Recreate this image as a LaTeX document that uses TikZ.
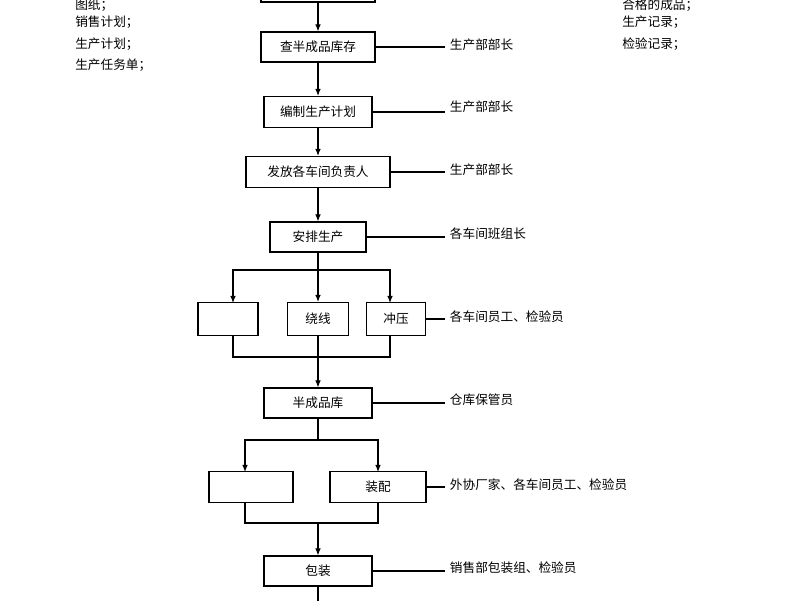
\documentclass[tikz,border=0pt]{standalone}
\usepackage{fontspec}
\setmainfont{Noto Sans CJK SC}
\usetikzlibrary{arrows.meta}
\tikzset{
    stage/.style={rectangle, draw=black, thick, fill=white, inner sep=0pt, font=\fontsize{9}{10}\selectfont},
    flow/.style={draw=black, thick, -{Latex[length=5pt,width=4pt]}},
    link/.style={draw=black, thick},
    role/.style={anchor=west, font=\fontsize{9}{10}\selectfont},
    doc/.style={anchor=west, font=\fontsize{9}{10}\selectfont, inner sep=0pt}
}
\begin{document}
\begin{tikzpicture}[x=0.025cm, y=-0.025cm]
\useasboundingbox (0,0) rectangle (800,600);
\clip (0,0) rectangle (800,600);

% Input and output documents
\node[doc] (in1) at (75,5) {图纸；};
\node[doc] (in2) at (75,22) {销售计划；};
\node[doc] (in3) at (75,44) {生产计划；};
\node[doc] (in4) at (75,65) {生产任务单；};
\node[doc] (out1) at (622,5) {合格的成品；};
\node[doc] (out2) at (622,22) {生产记录；};
\node[doc] (out3) at (622,44) {检验记录；};

% Main steps
\node[stage, minimum width=114*0.025cm, minimum height=30*0.025cm] (start) at (318,-13) {};
\node[stage, minimum width=114*0.025cm, minimum height=30*0.025cm] (check) at (318,47) {查半成品库存};
\node[stage, minimum width=108*0.025cm, minimum height=31*0.025cm] (plan) at (318,112) {编制生产计划};
\node[stage, minimum width=144*0.025cm, minimum height=31*0.025cm] (issue) at (318,172) {发放各车间负责人};
\node[stage, minimum width=96*0.025cm, minimum height=30*0.025cm] (arrange) at (318,237) {安排生产};

% Workshop row
\node[stage, minimum width=60*0.025cm, minimum height=33*0.025cm] (blank1) at (228,319) {};
\node[stage, minimum width=61*0.025cm, minimum height=33*0.025cm] (wind) at (318,319) {绕线};
\node[stage, minimum width=59*0.025cm, minimum height=33*0.025cm] (press) at (396,319) {冲压};

\node[stage, minimum width=108*0.025cm, minimum height=30*0.025cm] (semi) at (318,403) {半成品库};

% Assembly row
\node[stage, minimum width=84*0.025cm, minimum height=31*0.025cm] (blank2) at (251,487) {};
\node[stage, minimum width=96*0.025cm, minimum height=31*0.025cm] (assem) at (378,487) {装配};

\node[stage, minimum width=108*0.025cm, minimum height=30*0.025cm] (pack) at (318,571) {包装};

% Roles
\node[role] (r1) at (445,45) {生产部部长};
\node[role] (r2) at (445,107) {生产部部长};
\node[role] (r3) at (445,170) {生产部部长};
\node[role] (r4) at (445,234) {各车间班组长};
\node[role] (r5) at (445,317) {各车间员工、检验员};
\node[role] (r6) at (445,400) {仓库保管员};
\node[role] (r7) at (445,485) {外协厂家、各车间员工、检验员};
\node[role] (r8) at (445,568) {销售部包装组、检验员};

\coordinate (fork1) at (318,270);
\coordinate (join1) at (318,357);
\coordinate (fork2) at (318,440);
\coordinate (join2) at (318,523);
\coordinate (tail) at (318,610);

% Flow
\draw[flow] (start) -- (check);
\draw[flow] (check) -- (plan);
\draw[flow] (plan) -- (issue);
\draw[flow] (issue) -- (arrange);
\draw[link] (arrange) -- (fork1);
\draw[flow] (fork1) -| (233,303);
\draw[flow] (fork1) -- (wind);
\draw[flow] (fork1) -| (390,303);
\draw[link] (233,336) |- (join1) -| (390,336);
\draw[link] (wind) -- (join1);
\draw[flow] (join1) -- (semi);
\draw[link] (semi) -- (fork2);
\draw[flow] (fork2) -| (245,472);
\draw[flow] (fork2) -| (378,472);
\draw[link] (245,503) |- (join2) -| (378,503);
\draw[flow] (join2) -- (pack);
\draw[flow] (pack) -- (tail);

% Role links
\draw[link] (check.east) -- (check.east -| r1.west);
\draw[link] (plan.east) -- (plan.east -| r2.west);
\draw[link] (issue.east) -- (issue.east -| r3.west);
\draw[link] (arrange.east) -- (arrange.east -| r4.west);
\draw[link] (press.east) -- (press.east -| r5.west);
\draw[link] (semi.east) -- (semi.east -| r6.west);
\draw[link] (assem.east) -- (assem.east -| r7.west);
\draw[link] (pack.east) -- (pack.east -| r8.west);
\end{tikzpicture}
\end{document}
